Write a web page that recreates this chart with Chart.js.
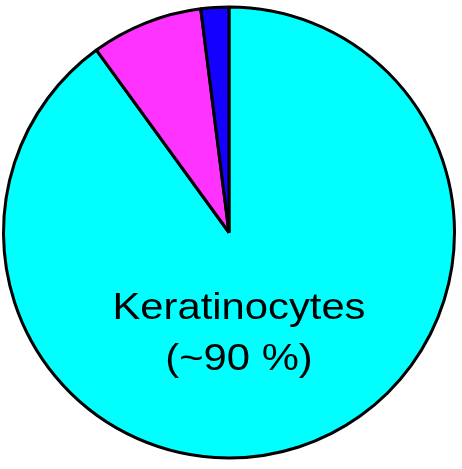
<!DOCTYPE html>
<html>
<head>
<meta charset="utf-8">
<script src="https://cdn.jsdelivr.net/npm/chart.js@4"></script>
<style>
  html, body { margin: 0; padding: 0; background: #fff; }
  #wrap { width: 462px; height: 469px; }
</style>
</head>
<body>
<div id="wrap"><canvas id="pieChart"></canvas></div>
<script>
// cell types of the epidermis, percent
const labels = ["Keratinocytes", "Melanocytes", "Other"];
const values = [90, 8, 2];
const colors = ["#00FFFF", "#FF33FF", "#1400FF"];
const centerText = ["Keratinocytes", "(~90 %)"];

// writes the big label inside the cyan slice (text in the original is a bit wide)
const sliceText = {
  id: "sliceText",
  afterDatasetsDraw(chart) {
    const arc = chart.getDatasetMeta(0).data[0];
    const ctx = chart.ctx;
    ctx.save();
    ctx.translate(arc.x + 10, arc.y);
    ctx.scale(1.16, 1);
    ctx.fillStyle = "#000";
    ctx.font = "36px 'Liberation Sans', Arial, sans-serif";
    ctx.textAlign = "center";
    ctx.textBaseline = "alphabetic";
    ctx.fillText(centerText[0], 0, 86);
    ctx.fillText(centerText[1], 0, 137);
    ctx.restore();
  }
};

const chart = new Chart(document.getElementById("pieChart"), {
  type: "pie",
  data: {
    labels,
    datasets: [{
      data: values,
      backgroundColor: colors,
      borderColor: "#000",
      borderWidth: 3
    }]
  },
  options: {
    responsive: true,
    maintainAspectRatio: false,
    animation: false,
    layout: { padding: { left: 2, right: 6, top: 3, bottom: 7 } },
    plugins: {
      legend: { display: false },
      tooltip: { enabled: false }
    }
  },
  plugins: [sliceText]
});
</script>
</body>
</html>
